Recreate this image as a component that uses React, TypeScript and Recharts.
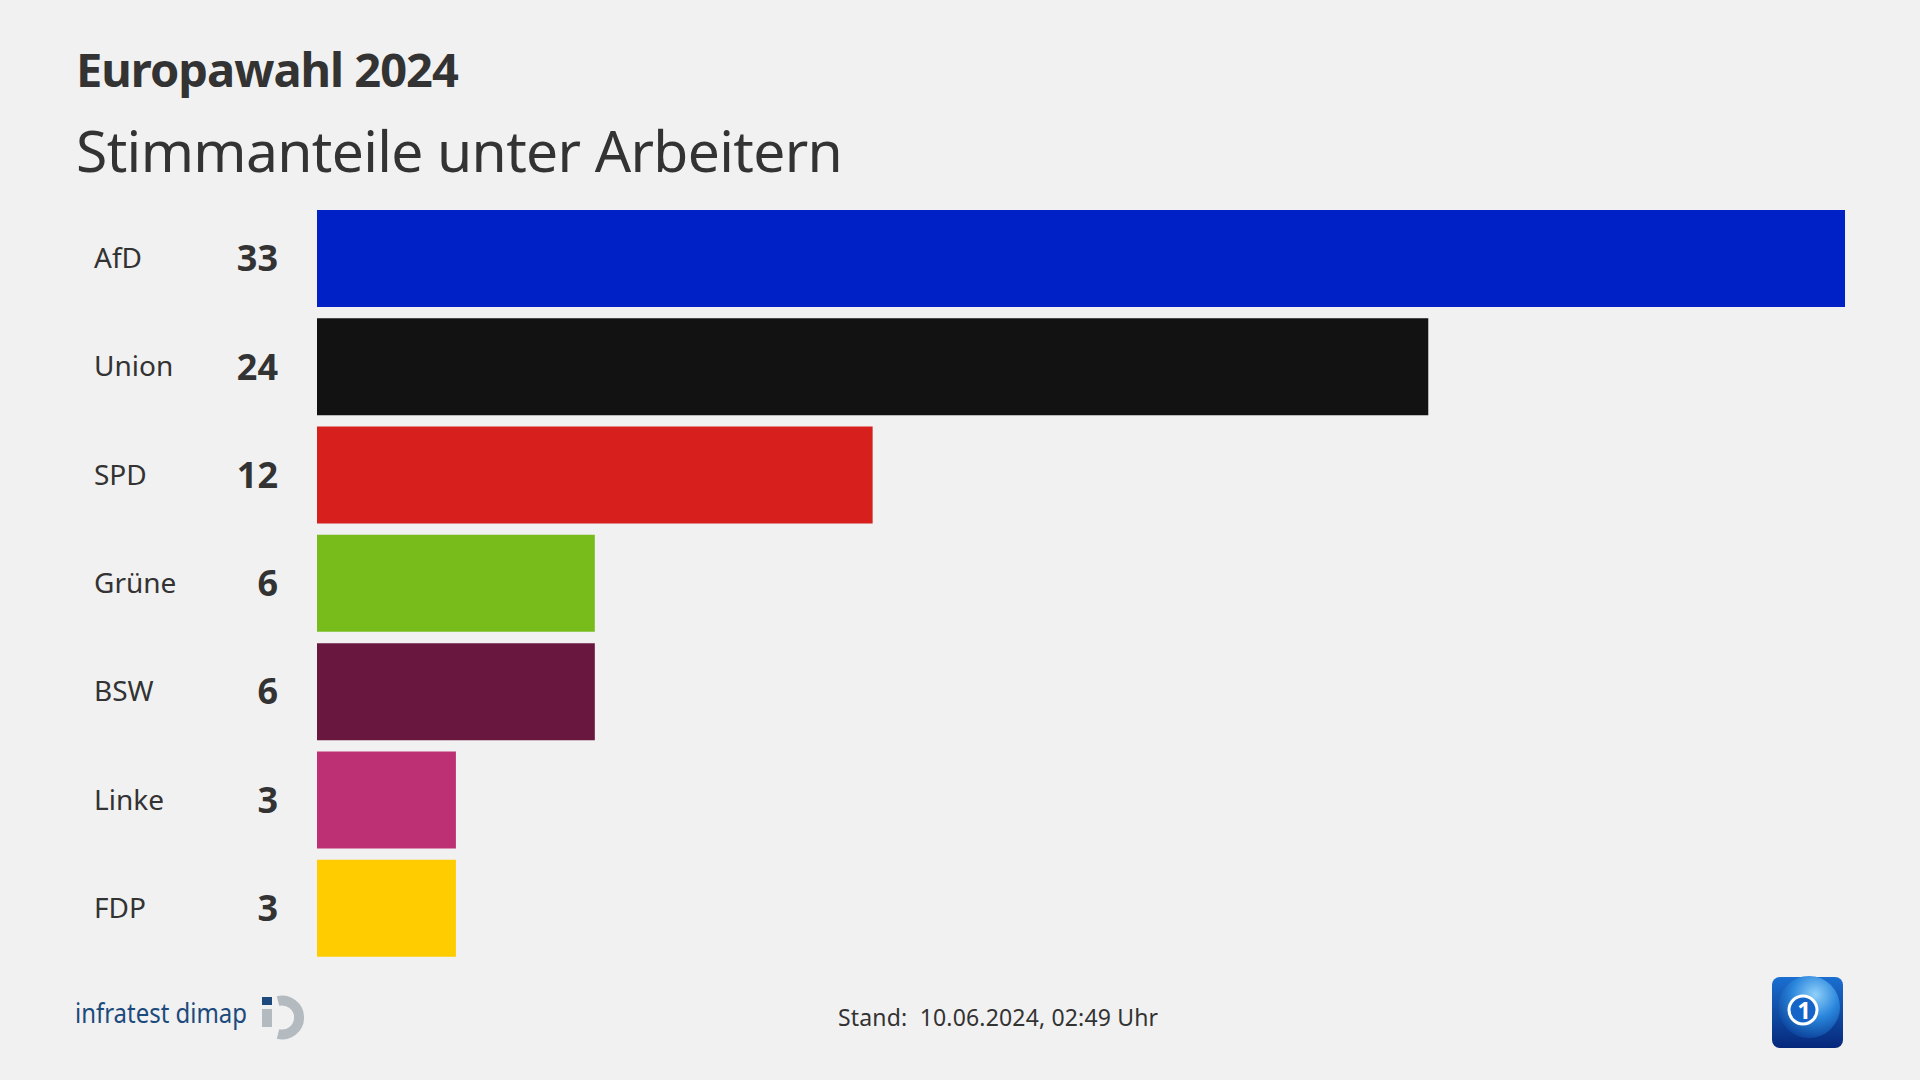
import { BarChart, Bar, XAxis, YAxis, Cell, LabelList } from "recharts";

const parties = ["AfD", "Union", "SPD", "Grüne", "BSW", "Linke", "FDP"];
const shares = [33, 24, 12, 6, 6, 3, 3];
const partyColors = ["#0021c6", "#121212", "#d71f1e", "#78bc1c", "#6a1740", "#bd3174", "#ffcc00"];

const title = "Europawahl 2024";
const subtitle = "Stimmanteile unter Arbeitern";
const stand = "Stand:  10.06.2024, 02:49 Uhr";

const data = parties.map((party, i) => ({ party, value: shares[i] }));

const font = "'Noto Sans', sans-serif";
const textColor = "#333333";

const PartyTick = (props: any) => {
    const { y, payload } = props;
    return (
        <text x={94} y={y} dy={10} fill={textColor} fontSize={28} fontFamily={font}>
            {payload.value}
        </text>
    );
};

// icon of the institute, drawn roughly
const InfratestLogo = () => (
    <g>
        <text x={75} y={1023} fill="#1d4a7c" fontSize={28} fontFamily={font} textLength={172} lengthAdjust="spacingAndGlyphs">
            infratest dimap
        </text>
        <rect x={262} y={997} width={10} height={8} fill="#1d4a7c" />
        <rect x={262} y={1009} width={10} height={18} fill="#b3bac0" />
        <path d="M 278 1001 A 17 17 0 1 1 278 1034" fill="none" stroke="#b3bac0" strokeWidth={10} />
    </g>
);

const ArdLogo = () => (
    <g>
        <defs>
            <linearGradient id="ardBg" x1="0" y1="0" x2="0" y2="1">
                <stop offset="0" stopColor="#1a6fd0" />
                <stop offset="1" stopColor="#06287a" />
            </linearGradient>
            <radialGradient id="ardGlobe" cx="60%" cy="30%" r="75%">
                <stop offset="0" stopColor="#8fd0fa" />
                <stop offset="0.5" stopColor="#2a86dc" />
                <stop offset="1" stopColor="#0a3f98" />
            </radialGradient>
        </defs>
        <rect x={1772} y={977} width={71} height={71} rx={8} fill="url(#ardBg)" />
        <circle cx={1809} cy={1007} r={31} fill="url(#ardGlobe)" />
        <circle cx={1803} cy={1010} r={14} fill="#1565c8" stroke="#ffffff" strokeWidth={3} />
        <text x={1804} y={1019} textAnchor="middle" fill="#ffffff" fontSize={24} fontWeight={700} fontFamily={font}>
            1
        </text>
    </g>
);

export default function App() {
    return (
        <div
            style={{
                position: "absolute",
                left: 0,
                top: 0,
                width: 1920,
                height: 1080,
                background: "#f1f1f1",
                overflow: "hidden",
            }}
        >
            <BarChart
                width={1920}
                height={1080}
                data={data}
                layout="vertical"
                margin={{ top: 204, right: 75, bottom: 118, left: 0 }}
                barSize={97}
            >
                <XAxis type="number" domain={[0, 33]} hide />
                <YAxis
                    type="category"
                    dataKey="party"
                    width={317}
                    axisLine={false}
                    tickLine={false}
                    tick={<PartyTick />}
                />
                <Bar dataKey="value" isAnimationActive={false}>
                    {data.map((d, i) => (
                        <Cell key={d.party} fill={partyColors[i]} />
                    ))}
                    <LabelList
                        dataKey="value"
                        position="left"
                        offset={39}
                        fill={textColor}
                        fontSize={36}
                        fontWeight={700}
                        fontFamily={font}
                    />
                </Bar>
            </BarChart>
            <svg
                width={1920}
                height={1080}
                style={{ position: "absolute", left: 0, top: 0, pointerEvents: "none" }}
            >
                <text x={76} y={87} fill={textColor} fontSize={47} fontWeight={700} fontFamily={font} letterSpacing={-1}>
                    {title}
                </text>
                <text x={76} y={172} fill={textColor} fontSize={57} fontFamily={font} letterSpacing={-0.65}>
                    {subtitle}
                </text>
                <text x={838} y={1026} fill={textColor} fontSize={23} fontFamily={font} letterSpacing={0.17} style={{ whiteSpace: "pre" }}>
                    {stand}
                </text>
                <InfratestLogo />
                <ArdLogo />
            </svg>
        </div>
    );
}
